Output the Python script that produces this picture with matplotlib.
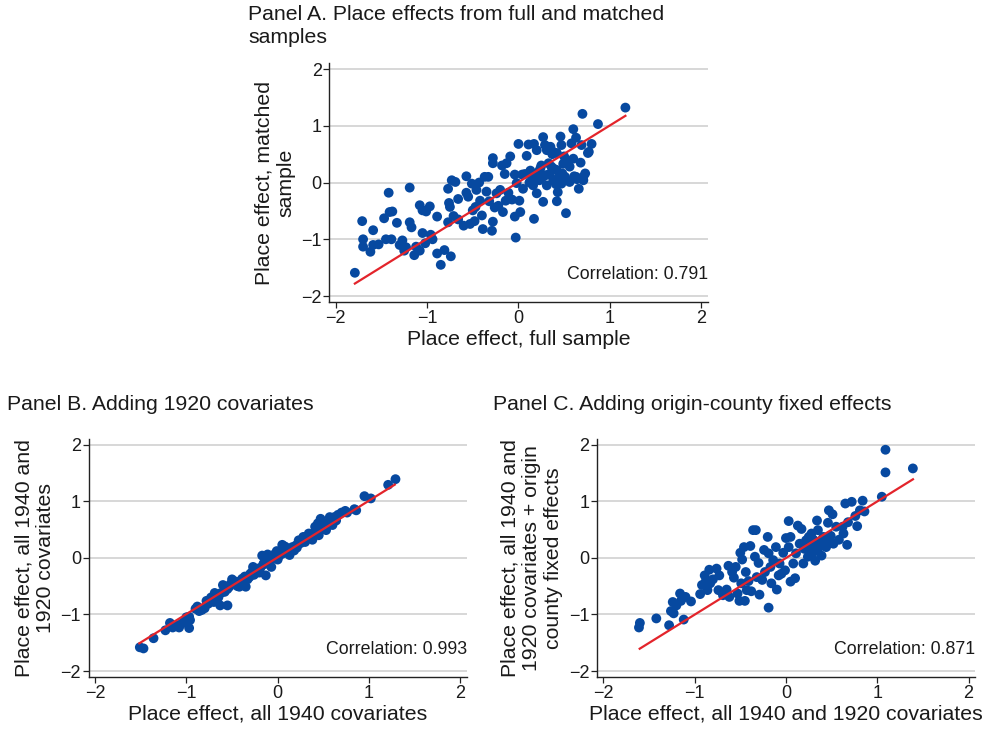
import matplotlib
matplotlib.use("Agg")
import matplotlib.pyplot as plt

plt.rcParams['font.family'] = ['Liberation Sans', 'DejaVu Sans']

# ---------------- Panel A data ----------------
a_x = [-1.79, -1.71, -1.70, -1.70, -1.62, -1.59, -1.59, -1.53, -1.47, -1.45, -1.42, -1.41, -1.38, -1.39,
       -1.33, -1.30, -1.27, -1.25, -1.23, -1.19, -1.19, -1.17, -1.14, -1.12, -1.08, -1.08, -1.05, -1.05,
       -1.02, -1.01, -0.97, -0.96, -0.94, -0.89, -0.89, -0.85, -0.81, -0.77, -0.77, -0.76, -0.75, -0.74,
       -0.73, -0.69, -0.71, -0.66, -0.66, -0.60, -0.57, -0.57, -0.55, -0.53, -0.51, -0.50, -0.48, -0.47,
       -0.46, -0.43, -0.42, -0.40, -0.39, -0.37, -0.35, -0.33, -0.32, -0.29, -0.28, -0.28, -0.28, -0.26,
       -0.24, -0.22, -0.20, -0.18, -0.17, -0.15, -0.14, -0.13, -0.11, -0.09, -0.07, -0.04, -0.04, -0.03,
       -0.02, 0.00, 0.01, 0.02, 0.04, 0.05, 0.07, 0.09, 0.11, 0.12, 0.15, 0.16, 0.17, 0.17, 0.20, 0.20,
       0.22, 0.23, 0.25, 0.26, 0.27, 0.27, 0.29, 0.31, 0.31, 0.33, 0.34, 0.35, 0.37, 0.38, 0.39, 0.41,
       0.42, 0.43, 0.44, 0.46, 0.47, 0.47, 0.49, 0.50, 0.51, 0.52, 0.54, 0.56, 0.58, 0.60, 0.60, 0.61,
       0.63, 0.64, 0.66, 0.68, 0.69, 0.70, 0.71, 0.73, 0.76, 0.80, 0.87, 1.17,
       0.38, 0.42, 0.13, 0.19, 0.24, 0.30, 0.36, 0.42, 0.48, 0.56, 0.63, 0.77, 0.71]
a_y = [-1.59, -0.68, -1.00, -1.13, -1.22, -0.84, -1.10, -1.09, -0.63, -1.00, -0.18, -0.52, -0.51, -1.00,
       -0.71, -1.10, -1.02, -1.20, -1.14, -0.09, -0.70, -0.79, -1.28, -1.13, -1.20, -0.40, -0.49, -0.89,
       -1.07, -0.51, -0.42, -0.92, -1.00, -0.60, -1.25, -1.45, -1.19, -0.70, -0.11, -0.36, -0.43, -1.30,
       0.04, 0.01, -0.59, -0.29, -0.65, -0.76, 0.11, -0.18, -0.25, -0.73, -0.02, -0.49, -0.68, -0.43,
       -0.13, 0.00, -0.32, -0.58, -0.82, 0.10, -0.16, 0.10, -0.33, -0.85, -0.69, 0.43, 0.34, -0.44,
       -0.19, -0.41, -0.13, 0.30, -0.52, 0.15, -0.32, 0.34, -0.18, 0.46, -0.30, -0.60, 0.14, -0.97,
       -0.01, 0.68, -0.32, -0.52, 0.14, -0.11, 0.15, 0.47, 0.67, 0.00, 0.13, -0.05, 0.68, -0.64, 0.57, -0.19,
       0.19, 0.04, 0.30, 0.09, 0.80, -0.34, 0.66, -0.05, 0.57, 0.34, 0.15, 0.63, 0.50, 0.04, 0.24, -0.03,
       -0.33, -0.17, 0.10, 0.81, 0.66, -0.02, 0.33, 0.46, 0.10, -0.54, 0.38, 0.01, 0.69, 0.94, 0.42, 0.11,
       0.79, 0.06, -0.11, 0.35, 0.66, 1.21, 0.04, 0.16, 0.52, 0.68, 1.03, 1.32,
       0.54, 0.52, 0.21, 0.10, 0.25, 0.13, 0.28, 0.22, 0.16, 0.28, 0.10, 0.54, 0.10]
a_fit_x = [-1.79, 1.17]
a_fit_y = [-1.78, 1.175]
a_corr = "0.791"

# ---------------- Panel B data ----------------
b_x = [-1.51, -1.47, -1.36, -1.23, -1.18, -1.15, -1.11, -1.08, -1.05, -1.02, -0.97, -0.96, -0.97,
       -0.88, -0.86, -0.80, -0.76, -0.71, -0.69, -0.66, -0.63, -0.60, -0.57, -0.55, -0.53, -0.50,
       -0.45, -0.42, -0.39, -0.35, -0.31, -0.28, -0.27, -0.24, -0.20, -0.17, -0.15, -0.13, -0.11,
       -0.09, -0.07, -0.04, -0.01, 0.02, 0.05, 0.07, 0.10, 0.13, 0.16, 0.20, 0.23, 0.28, 0.31, 0.34,
       0.38, 0.41, 0.44, 0.47, 0.49, 0.53, 0.56, 0.57, 0.64, 0.66, 0.74, 0.84, 0.95, 1.02, 1.21, 1.29,
       -0.65, -0.62, -0.58, -0.55, -0.52, -0.48, -0.46, -0.44, -0.40, -0.37, -0.36, -0.33, -0.30,
       -0.26, -0.22, -0.19, -0.16, -0.12, -0.10, -0.06, -0.03, 0.00, 0.03, 0.06, 0.08, 0.11, 0.14,
       0.18, 0.21, 0.25, 0.27, 0.30, 0.33, 0.36, 0.40, 0.43, 0.45, 0.50, 0.52, 0.60, 0.62, 0.70,
       0.76, 0.86, -0.90, -0.83, -0.78, -0.73, -0.70, -1.12, -1.00]
b_y = [-1.58, -1.60, -1.42, -1.28, -1.15, -1.23, -1.19, -1.23, -1.16, -1.12, -1.04, -1.10, -1.24,
       -0.86, -0.94, -0.89, -0.81, -0.75, -0.62, -0.69, -0.84, -0.48, -0.56, -0.84, -0.51, -0.38,
       -0.46, -0.51, -0.37, -0.51, -0.34, -0.25, -0.16, -0.22, -0.26, 0.04, -0.09, -0.31, 0.06,
       -0.05, -0.16, 0.02, 0.12, 0.04, 0.23, 0.14, 0.17, 0.05, 0.19, 0.22, 0.31, 0.37, 0.37, 0.43,
       0.32, 0.55, 0.61, 0.69, 0.55, 0.49, 0.61, 0.72, 0.66, 0.76, 0.83, 0.86, 1.09, 1.05, 1.29, 1.39,
       -0.70, -0.62, -0.60, -0.55, -0.47, -0.45, -0.42, -0.50, -0.40, -0.44, -0.33, -0.38, -0.28,
       -0.30, -0.19, -0.18, -0.12, -0.10, 0.00, -0.02, 0.07, -0.03, 0.10, 0.08, 0.20, 0.10, 0.16,
       0.13, 0.18, 0.26, 0.30, 0.28, 0.36, 0.40, 0.44, 0.50, 0.40, 0.62, 0.57, 0.58, 0.72, 0.80,
       0.80, 0.84, -0.90, -0.92, -0.76, -0.70, -0.78, -1.20, -1.05]
b_fit_x = [-1.516, 1.283]
b_fit_y = [-1.51, 1.294]
b_corr = "0.993"

# ---------------- Panel C data ----------------
c_x = [-1.61, -1.60, -1.42, -1.28, -1.26, -1.24, -1.23, -1.20, -1.16, -1.15, -1.12, -1.10, -1.04,
       -0.94, -0.92, -0.89, -0.88, -0.86, -0.84, -0.83, -0.80, -0.76, -0.74, -0.73, -0.69, -0.65,
       -0.63, -0.62, -0.59, -0.57, -0.55, -0.53, -0.51, -0.50, -0.49, -0.48, -0.46, -0.45, -0.44,
       -0.43, -0.41, -0.39, -0.38, -0.36, -0.34, -0.33, -0.32, -0.30, -0.29, -0.26, -0.24, -0.23,
       -0.20, -0.19, -0.19, -0.17, -0.16, -0.14, -0.11, -0.10, -0.08, -0.07, -0.05, -0.03, -0.01,
       0.00, 0.03, 0.03, 0.05, 0.05, 0.08, 0.10, 0.11, 0.13, 0.15, 0.17, 0.19, 0.20, 0.22, 0.24,
       0.25, 0.27, 0.28, 0.30, 0.31, 0.32, 0.34, 0.35, 0.37, 0.39, 0.41, 0.44, 0.46, 0.47, 0.49,
       0.51, 0.52, 0.55, 0.58, 0.62, 0.63, 0.65, 0.67, 0.68, 0.72, 0.76, 0.78, 0.81, 0.84, 0.86,
       1.05, 1.09, 1.09, 1.39,
       0.25, 0.30, 0.33, 0.38, 0.42, 0.45, 0.28, 0.22, 0.35]
c_y = [-1.23, -1.15, -1.07, -1.19, -0.94, -0.78, -0.98, -0.84, -0.63, -0.76, -1.09, -0.69, -0.77,
       -0.64, -0.48, -0.31, -0.42, -0.57, -0.21, -0.45, -0.38, -0.19, -0.57, -0.31, -0.66, -0.56,
       -0.14, -0.69, -0.25, -0.35, -0.16, -0.63, -0.76, 0.09, -0.45, -0.03, 0.19, -0.76, -0.25,
       -0.57, -0.41, 0.21, -0.59, 0.49, 0.02, 0.49, -0.34, -0.09, -0.65, -0.39, 0.14, -0.25,
       0.37, -0.88, 0.08, -0.16, -0.45, -0.04, 0.19, -0.56, -0.31, -0.10, -0.28, 0.09, -0.22,
       0.35, 0.65, 0.19, 0.37, -0.42, -0.10, -0.36, 0.08, 0.57, 0.25, 0.51, -0.10, 0.16, 0.31, 0.02,
       0.37, 0.18, 0.43, 0.10, 0.30, -0.05, 0.66, 0.49, 0.25, 0.04, 0.37, 0.19, 0.62, 0.84, 0.39,
       0.77, 0.25, 0.55, 0.32, 0.55, 0.43, 0.96, 0.23, 0.63, 0.99, 0.74, 0.56, 0.84, 1.01, 0.82,
       1.08, 1.91, 1.51, 1.58,
       0.28, 0.32, 0.22, 0.30, 0.27, 0.35, 0.12, 0.22, 0.15]
c_fit_x = [-1.602, 1.391]
c_fit_y = [-1.605, 1.388]
c_corr = "0.871"

ticks = [-2, -1, 0, 1, 2]
tick_labels = ['\u22122', '\u22121', '0', '1', '2']

DOT = '#0749a0'
RED = '#e3242b'
GRID = '#d4d4d4'
TXT = '#1a1a1a'

fig = plt.figure(figsize=(9.9, 7.33), dpi=100)

def panel(rect, x, y, fx, fy, corr, xlabel, ylabel, title, title_xy):
    ax = fig.add_axes(rect)
    ax.set_xlim(-2.07, 2.07)
    ax.set_ylim(-2.11, 2.1)
    ax.set_xticks(ticks)
    ax.set_xticklabels(tick_labels)
    ax.set_yticks(ticks)
    ax.set_yticklabels(tick_labels)
    for v in ticks:
        ax.axhline(v, color=GRID, lw=1.3, zorder=0)
    ax.spines['top'].set_visible(False)
    ax.spines['right'].set_visible(False)
    for s in ('left', 'bottom'):
        ax.spines[s].set_color('#222222')
        ax.spines[s].set_linewidth(1.0)
    ax.tick_params(axis='both', direction='out', length=4, width=0.9, color='#222222',
                   labelsize=13, labelcolor=TXT, pad=1.5)
    ax.scatter(x, y, s=50, color=DOT, edgecolors='none', zorder=3)
    ax.plot(fx, fy, color=RED, lw=1.6, zorder=4)
    ax.text(1.0, 0.115, 'Correlation: ' + corr, transform=ax.transAxes, ha='right', va='center',
            fontsize=12.8, color=TXT, zorder=5)
    ax.set_xlabel(xlabel, fontsize=15.3, color=TXT, labelpad=2)
    ax.set_ylabel(ylabel, fontsize=15.3, color=TXT, labelpad=4, linespacing=1.2)
    fig.text(title_xy[0], title_xy[1], title, fontsize=15.3, color=TXT, ha='left', va='top',
             linespacing=1.25)
    return ax

panel([0.3326, 0.5876, 0.3822, 0.326], a_x, a_y, a_fit_x, a_fit_y, a_corr,
      'Place effect, full sample', 'Place effect, matched\nsample',
      'Panel A. Place effects from full and matched\nsamples', (248 / 990, 1 - 5 / 733))
panel([0.0896, 0.076, 0.3818, 0.3251], b_x, b_y, b_fit_x, b_fit_y, b_corr,
      'Place effect, all 1940 covariates', 'Place effect, all 1940 and\n1920 covariates',
      'Panel B. Adding 1920 covariates', (7 / 990, 1 - 395 / 733))
panel([0.603, 0.076, 0.3818, 0.3251], c_x, c_y, c_fit_x, c_fit_y, c_corr,
      'Place effect, all 1940 and 1920 covariates',
      'Place effect, all 1940 and\n1920 covariates + origin\ncounty fixed effects',
      'Panel C. Adding origin-county fixed effects', (493 / 990, 1 - 395 / 733))

fig.savefig('out.png', dpi=100)
